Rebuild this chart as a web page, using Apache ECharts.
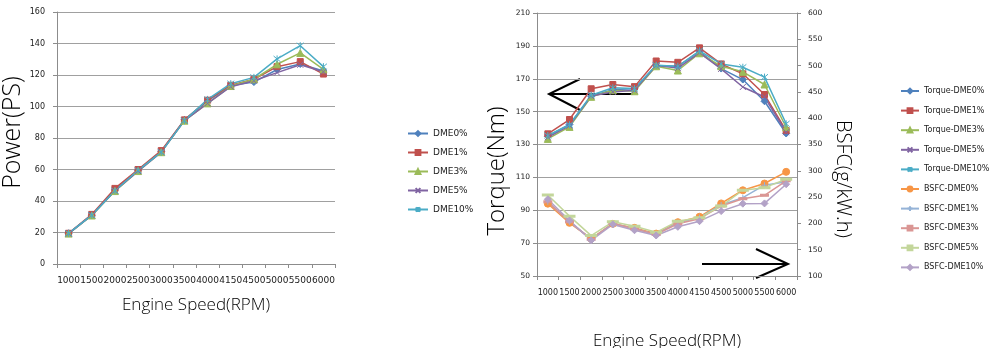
<!DOCTYPE html>
<html><head><meta charset="utf-8">
<script src="https://cdn.jsdelivr.net/npm/echarts@6/dist/echarts.min.js"></script>
<style>html,body{margin:0;padding:0;background:#fff}#c{width:991px;height:348px}</style>
</head><body><div id="c"></div>
<script>
// ---- data ----
const categories = ['1000','1500','2000','2500','3000','3500','4000','4150','4500','5000','5500','6000'];

const powerNames = ['DME0%','DME1%','DME3%','DME5%','DME10%'];
const power_DME0  = [19.5, 31.0, 47.0, 59.5, 71.5, 91.5, 103.5, 113.3, 115.5, 123.5, 127.0, 122.5];
const power_DME1  = [19.5, 31.5, 48.0, 60.0, 72.0, 91.5, 104.0, 113.5, 117.3, 125.3, 128.5, 120.6];
const power_DME3  = [19.3, 30.8, 46.3, 59.0, 71.0, 91.0, 102.0, 113.0, 117.3, 126.8, 134.0, 123.6];
const power_DME5  = [19.3, 31.0, 46.5, 59.0, 71.0, 91.0, 102.0, 112.6, 116.4, 121.5, 126.5, 122.0];
const power_DME10 = [19.5, 31.0, 46.5, 59.5, 71.0, 91.0, 104.5, 114.5, 118.5, 130.2, 138.6, 125.3];

const torqueNames = ['Torque-DME0%','Torque-DME1%','Torque-DME3%','Torque-DME5%','Torque-DME10%'];
const torque_DME0  = [135.0, 142.2, 159.4, 163.4, 163.9, 178.0, 177.6, 186.7, 176.2, 169.5, 156.3, 136.7];
const torque_DME1  = [136.5, 145.2, 163.9, 166.5, 165.2, 180.8, 180.0, 188.8, 179.0, 173.0, 160.4, 138.5];
const torque_DME3  = [133.4, 140.7, 159.0, 163.0, 162.4, 177.6, 175.0, 185.5, 177.6, 174.2, 166.5, 140.5];
const torque_DME5  = [134.4, 141.5, 159.5, 162.0, 163.0, 178.0, 176.5, 185.8, 176.0, 165.0, 158.9, 137.5];
const torque_DME10 = [135.5, 142.0, 160.0, 164.5, 164.0, 178.2, 177.6, 187.0, 179.0, 177.0, 171.0, 142.6];

const bsfcNames = ['BSFC-DME0%','BSFC-DME1%','BSFC-DME3%','BSFC-DME5%','BSFC-DME10%'];
const bsfc_DME0  = [237.5, 201.0, 171.0, 199.2, 191.5, 180.6, 202.3, 212.6, 238.0, 263.0, 275.8, 298.0];
const bsfc_DME1  = [241.0, 203.0, 170.0, 200.0, 190.0, 179.0, 201.0, 211.0, 235.0, 249.0, 272.6, 279.0];
const bsfc_DME3  = [241.0, 203.0, 170.0, 200.0, 190.0, 179.0, 199.2, 209.0, 233.0, 247.0, 253.5, 281.0];
const bsfc_DME5  = [254.0, 213.8, 176.8, 203.0, 194.7, 183.0, 204.2, 210.7, 233.0, 263.0, 268.0, 284.0];
const bsfc_DME10 = [245.8, 205.6, 167.8, 198.0, 187.0, 177.0, 193.5, 204.2, 223.4, 237.5, 238.0, 274.5];

const powerTicks  = {min: 0,   max: 160, interval: 20};
const torqueTicks = {min: 50,  max: 210, interval: 20};
const bsfcTicks   = {min: 100, max: 600, interval: 50};

// ---- styles ----
const FONT = 'DejaVu Sans';
const NAMEFONT = 'Open Sans';
const mainColors = ['#4F81BD','#C0504D','#9BBB59','#8064A2','#4BACC6'];
const lightColors = ['#F79646','#95B3D7','#DA9694','#C3D69B','#B3A2C7'];
const SYM_X = 'path://M0,0L10,10M10,0L0,10';
const SYM_STAR = 'path://M0,0L10,10M10,0L0,10M5,-1L5,11';
const SYM_PLUS = 'path://M5,0L5,10M0,5L10,5';
const mainSymbols = [
  {symbol:'diamond', size:7},
  {symbol:'rect', size:6},
  {symbol:'triangle', size:7},
  {symbol:SYM_X, size:6},
  {symbol:SYM_STAR, size:7}
];
const lightSymbols = [
  {symbol:'circle', size:7},
  {symbol:SYM_PLUS, size:6},
  {symbol:'rect', size:[6,2]},
  {symbol:'rect', size:[8,2]},
  {symbol:'diamond', size:7}
];

function mkSeries(name, data, color, sym, xi, yi) {
  return {
    type: 'line', name: name, data: data, xAxisIndex: xi, yAxisIndex: yi,
    symbol: sym.symbol, symbolSize: sym.size, showAllSymbol: true,
    lineStyle: {color: color, width: 1.5},
    itemStyle: {color: color, borderColor: color, borderWidth: 1},
    emphasis: {disabled: true}, animation: false
  };
}

const powerData = [power_DME0, power_DME1, power_DME3, power_DME5, power_DME10];
const torqueData = [torque_DME0, torque_DME1, torque_DME3, torque_DME5, torque_DME10];
const bsfcData = [bsfc_DME0, bsfc_DME1, bsfc_DME3, bsfc_DME5, bsfc_DME10];

const series = [];
powerNames.forEach((n,i)=>series.push(mkSeries(n, powerData[i], mainColors[i], mainSymbols[i], 0, 0)));
torqueNames.forEach((n,i)=>series.push(mkSeries(n, torqueData[i], mainColors[i], mainSymbols[i], 1, 1)));
bsfcNames.forEach((n,i)=>series.push(mkSeries(n, bsfcData[i], lightColors[i], lightSymbols[i], 1, 2)));

const gridLine = {show:true, lineStyle:{color:'#a0a0a0', width:1}};
const axLine = {show:true, lineStyle:{color:'#8c8c8c', width:1}};
const axTick = {show:true, length:4, inside:false, lineStyle:{color:'#8c8c8c'}};

function xAx(gi, fs, margin, gap) {
  return {
    type:'category', gridIndex: gi, data: categories, boundaryGap: true,
    axisLine: axLine, axisTick: Object.assign({}, axTick, {alignWithLabel:false, interval:0}),
    axisLabel: {interval:0, fontSize: fs, color:'#1a1a1a', fontFamily: FONT, margin: margin},
    splitLine: {show:false},
    name: 'Engine Speed(RPM)', nameLocation:'middle', nameGap: gap,
    nameTextStyle: {fontSize: 17, fontFamily: NAMEFONT, fontWeight: 300, color:'#000'}
  };
}

const option = {
  backgroundColor: '#fff',
  animation: false,
  grid: [
    {left: 57, right: 656, top: 12, bottom: 84, containLabel: false, outerBoundsMode: 'none'},
    {left: 537, right: 194, top: 13, bottom: 72, containLabel: false, outerBoundsMode: 'none'}
  ],
  xAxis: [ xAx(0, 9, 12, 33), xAx(1, 8, 13, 57) ],
  yAxis: [
    {type:'value', gridIndex:0, min: powerTicks.min, max: powerTicks.max, interval: powerTicks.interval,
     axisLine: axLine, axisTick: axTick, splitLine: gridLine,
     axisLabel: {fontSize: 8, color:'#1a1a1a', fontFamily: FONT, margin: 12},
     name: 'Power(PS)', nameLocation:'middle', nameGap: 28,
     nameTextStyle: {fontSize: 25, fontFamily: NAMEFONT, fontWeight: 300, color:'#000', padding:[0,0,0,11]}},
    {type:'value', gridIndex:1, min: torqueTicks.min, max: torqueTicks.max, interval: torqueTicks.interval,
     axisLine: axLine, axisTick: axTick, splitLine: gridLine,
     axisLabel: {fontSize: 7.5, color:'#1a1a1a', fontFamily: FONT, margin: 7},
     name: 'Torque(Nm)', nameLocation:'middle', nameGap: 28,
     nameTextStyle: {fontSize: 24, fontFamily: NAMEFONT, fontWeight: 300, color:'#000', padding:[0,53,0,0]}},
    {type:'value', gridIndex:1, position:'right', min: bsfcTicks.min, max: bsfcTicks.max, interval: bsfcTicks.interval,
     axisLine: axLine, axisTick: axTick, splitLine: {show:false},
     axisLabel: {fontSize: 7.5, color:'#1a1a1a', fontFamily: FONT, margin: 11},
     name: 'BSFC(g/kW.h)', nameLocation:'middle', nameGap: 36, nameRotate: -90,
     nameTextStyle: {fontSize: 20, fontFamily: NAMEFONT, fontWeight: 300, color:'#000', padding:[0,0,0,69]}}
  ],
  legend: [
    {data: powerNames, orient:'vertical', left: 407, top: 129, padding: 0, itemWidth: 20, itemHeight: 6, itemGap: 10,
     textStyle:{fontSize: 9, fontFamily: FONT, color:'#222'}, selectedMode:false},
    {data: torqueNames.concat(bsfcNames), orient:'vertical', left: 900, top: 87, padding: 0, itemWidth: 18, itemHeight: 6, itemGap: 11.6,
     textStyle:{fontSize: 8, fontFamily: FONT, color:'#222'}, selectedMode:false}
  ],
  graphic: [
    {type:'polyline', shape:{points:[[580,79],[549,94],[580,110]]}, style:{stroke:'#000', lineWidth:2, fill:null}, silent:true},
    {type:'line', shape:{x1:549, y1:94, x2:633, y2:94}, style:{stroke:'#000', lineWidth:2}, silent:true},
    {type:'line', shape:{x1:702, y1:264, x2:788, y2:264}, style:{stroke:'#000', lineWidth:2}, silent:true},
    {type:'polyline', shape:{points:[[756,249],[788,264],[756,278]]}, style:{stroke:'#000', lineWidth:2, fill:null}, silent:true}
  ],
  series: series
};

const chart = echarts.init(document.getElementById('c'), null, {renderer:'canvas'});
chart.setOption(option);
</script>
</body></html>
